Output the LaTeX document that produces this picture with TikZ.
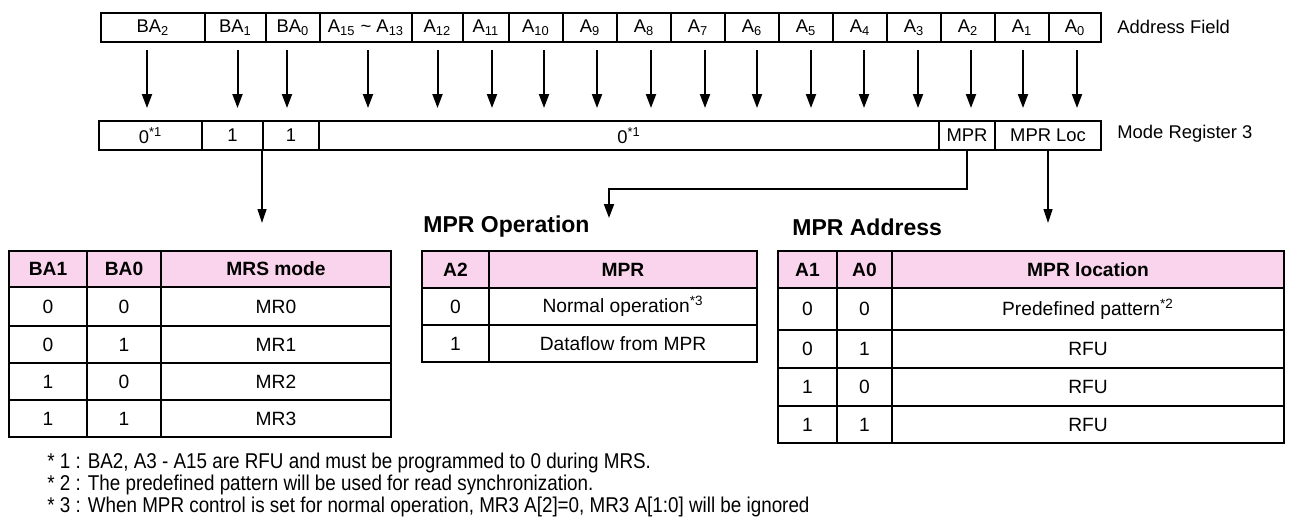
\documentclass[tikz,border=0pt]{standalone}
\usepackage{fontspec}
\setmainfont{Liberation Sans}
\newfontfamily\notefont[FakeStretch=0.88]{Liberation Sans}
\usetikzlibrary{arrows.meta,calc}
\definecolor{hdrpink}{RGB}{250,212,236}

\tikzset{
  field/.style={draw, line width=1pt, inner sep=0pt, font=\fontsize{9.2}{11}\selectfont},
  cell/.style={draw, line width=1pt, inner sep=0pt, font=\fontsize{9.6}{11}\selectfont},
  hdr/.style={cell, fill=hdrpink, font=\fontsize{9.6}{11}\selectfont\bfseries},
  title/.style={inner sep=0pt, anchor=west, font=\fontsize{11.5}{13}\selectfont\bfseries},
  side/.style={inner sep=0pt, anchor=west, font=\fontsize{9.2}{11}\selectfont},
  note/.style={inner sep=0pt, anchor=west, font=\fontsize{10.7}{12}\notefont},
  arr/.style={-{Triangle[width=5pt,length=7pt]}, line width=1pt},
  thinarr/.style={-{Triangle[width=4.5pt,length=7pt]}, line width=0.6pt},
}

% box from (left,top) to (right,bottom), pixel units
\newcommand{\cellbox}[7][cell]{%
  \node[#1, minimum width={(#5-#3)*0.5pt}, minimum height={(#6-#4)*0.5pt}]
    (#2) at ({(#3+#5)/2},{(#4+#6)/2}) {#7};}

\begin{document}
\begin{tikzpicture}[x=0.5pt,y=-0.5pt]
  \useasboundingbox (0,0) rectangle (1294,525);

  % address field
  \foreach \n/\l/\r/\t in {ba2/101/205/BA\textsubscript{2}, ba1/205/266/BA\textsubscript{1},
      ba0/266/320/BA\textsubscript{0}, a15/320/412/A\textsubscript{15} \textasciitilde{} A\textsubscript{13},
      a12/412/463/A\textsubscript{12}, a11/463/509/A\textsubscript{11}, a10/509/563/A\textsubscript{10},
      a9/563/617/A\textsubscript{9}, a8/617/671/A\textsubscript{8}, a7/671/725/A\textsubscript{7},
      a6/725/779/A\textsubscript{6}, a5/779/833/A\textsubscript{5}, a4/833/887/A\textsubscript{4},
      a3/887/941/A\textsubscript{3}, a2/941/995/A\textsubscript{2}, a1/995/1049/A\textsubscript{1},
      a0/1049/1101/A\textsubscript{0}}
    \cellbox[field]{\n}{\l}{13}{\r}{42}{\t};
  \node[side] (fieldlbl) at (1117,27) {Address Field};

  \foreach \n/\dx in {ba2/-6, ba1/2, ba0/-6, a15/2, a12/0, a11/6, a10/8, a9/7, a8/7,
      a7/7, a6/5, a5/5, a4/4, a3/4, a2/3, a1/1, a0/2}
    \draw[arr] ($(\n.south)+(\dx,7)$) -- ++(0,58);

  % mode register 3
  \cellbox[field]{reg0}{99}{121}{202}{150}{0\textsuperscript{*1}}
  \cellbox[field]{reg1}{202}{121}{263}{150}{1}
  \cellbox[field]{reg2}{263}{121}{319}{150}{1}
  \cellbox[field]{reg3}{319}{121}{939}{150}{0\textsuperscript{*1}}
  \cellbox[field]{mpr}{939}{121}{995}{150}{MPR}
  \cellbox[field]{loc}{995}{121}{1101}{150}{MPR Loc}
  \node[side] (reglbl) at (1117,134) {Mode Register 3};

  \node[title] (optitle) at (423,227) {MPR Operation};
  \node[title] (adrtitle) at (792,227) {MPR Address};
  \coordinate (opin) at (609,218);

  \draw[thinarr] (reg2.south west) -- ++(0,72);
  \draw[arr] (mpr.south) -- ++(0,38) -| (opin);
  \draw[thinarr] (loc.south) -- ++(0,72);

  % MRS mode table
  \cellbox[hdr]{mrsh1}{9}{251}{87}{287}{BA1}
  \cellbox[hdr]{mrsh2}{87}{251}{161}{287}{BA0}
  \cellbox[hdr]{mrsh3}{161}{251}{391}{287}{MRS mode}
  \foreach \i/\t/\b/\p/\q/\m in {1/287/326/0/0/MR0, 2/326/363/0/1/MR1,
      3/363/400/1/0/MR2, 4/400/437/1/1/MR3} {
    \cellbox{mrs\i-a}{9}{\t}{87}{\b}{\p}
    \cellbox{mrs\i-b}{87}{\t}{161}{\b}{\q}
    \cellbox{mrs\i-c}{161}{\t}{391}{\b}{\m}
  }

  % MPR operation table
  \cellbox[hdr]{oph1}{422}{251}{489}{288}{A2}
  \cellbox[hdr]{oph2}{489}{251}{757}{288}{MPR}
  \cellbox{op1-a}{422}{288}{489}{325}{0}
  \cellbox{op1-b}{489}{288}{757}{325}{Normal operation\textsuperscript{*3}}
  \cellbox{op2-a}{422}{325}{489}{362}{1}
  \cellbox{op2-b}{489}{325}{757}{362}{Dataflow from MPR}

  % MPR address table
  \cellbox[hdr]{adrh1}{778}{251}{837}{288}{A1}
  \cellbox[hdr]{adrh2}{837}{251}{892}{288}{A0}
  \cellbox[hdr]{adrh3}{892}{251}{1284}{288}{MPR location}
  \foreach \i/\t/\b/\p/\q/\m in {1/288/330/0/0/Predefined pattern\textsuperscript{*2},
      2/330/368/0/1/RFU, 3/368/406/1/0/RFU, 4/406/443/1/1/RFU} {
    \cellbox{adr\i-a}{778}{\t}{837}{\b}{\p}
    \cellbox{adr\i-b}{837}{\t}{892}{\b}{\q}
    \cellbox{adr\i-c}{892}{\t}{1284}{\b}{\m}
  }

  % footnotes
  \node[note] (note1) at (47,463) {* 1 : BA2, A3 - A15 are RFU and must be programmed to 0 during MRS.};
  \node[note] (note2) at (47,485) {* 2 : The predefined pattern will be used for read synchronization.};
  \node[note] (note3) at (47,507) {* 3 : When MPR control is set for normal operation, MR3 A[2]=0, MR3 A[1:0] will be ignored};
\end{tikzpicture}
\end{document}
